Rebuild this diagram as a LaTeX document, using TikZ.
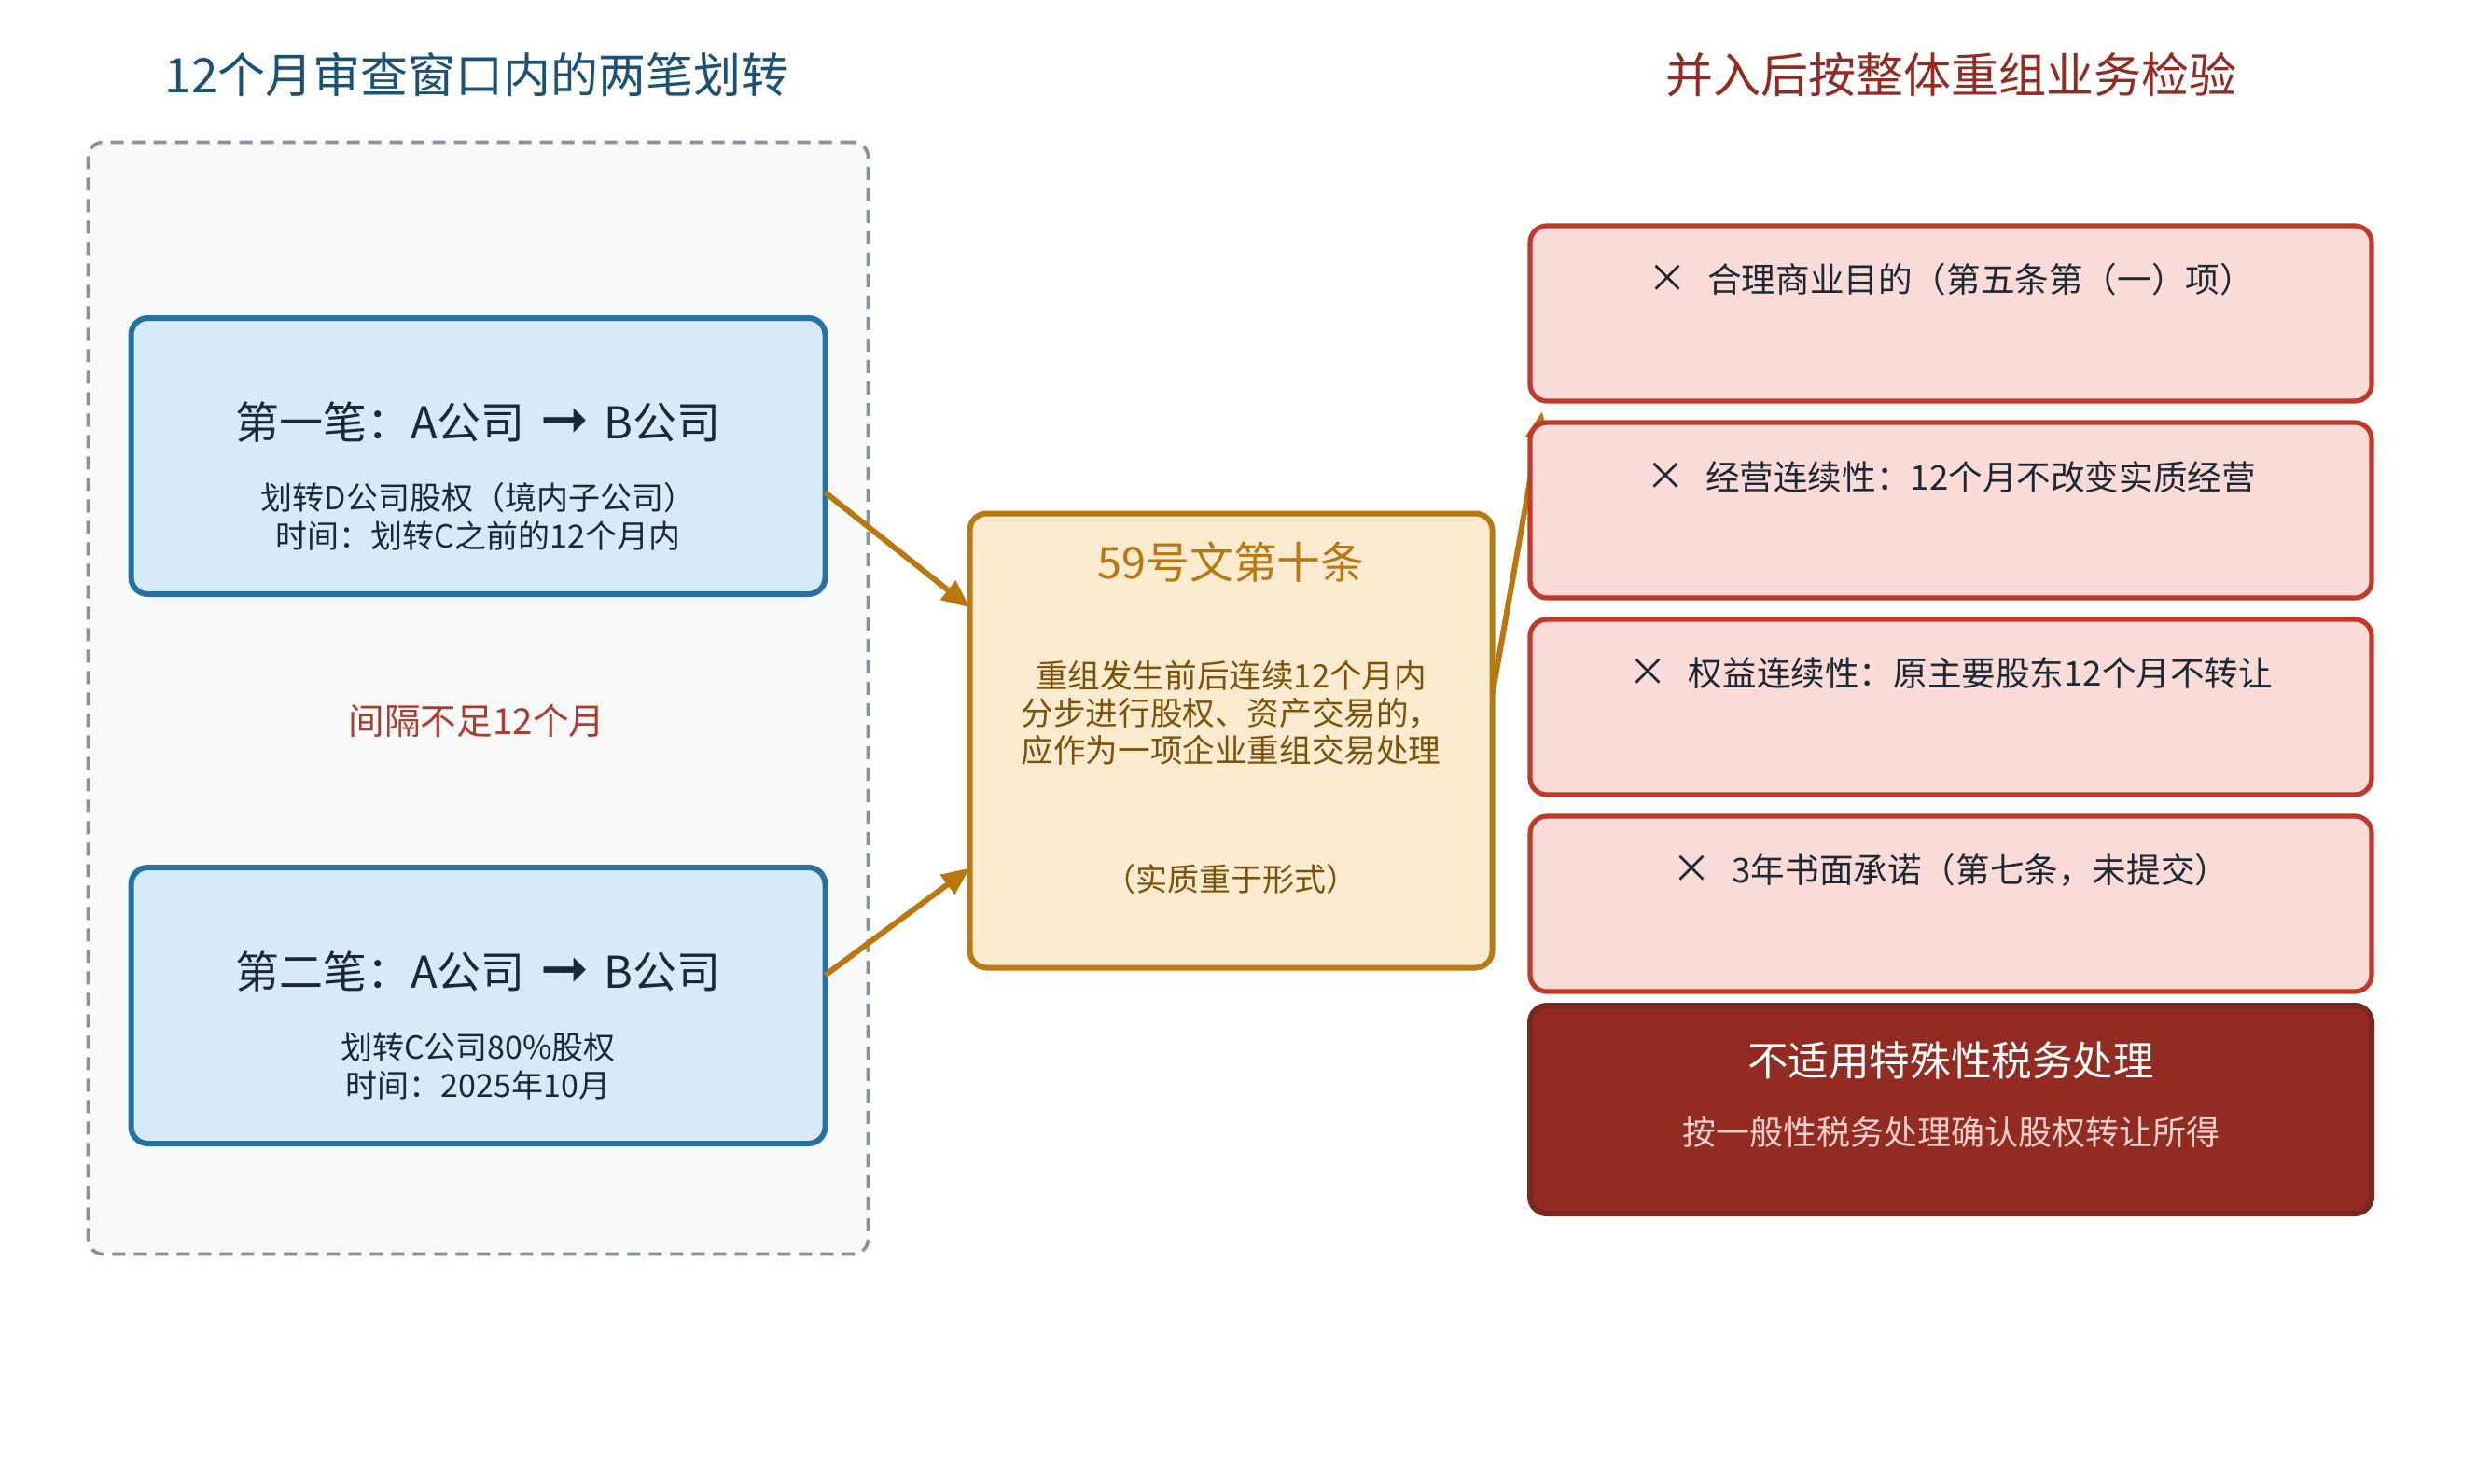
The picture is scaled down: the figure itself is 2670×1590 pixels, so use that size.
\documentclass[tikz,border=0pt]{standalone}
\usepackage{fontspec}
\setmainfont{Noto Sans CJK SC}
\newfontfamily\symfont{DejaVu Sans}
\usetikzlibrary{arrows.meta}
\definecolor{titleblue}{HTML}{1A5276}
\definecolor{titlered}{HTML}{922B21}
\definecolor{framegray}{HTML}{8593A0}
\definecolor{framefill}{HTML}{F7F9F9}
\definecolor{bluefill}{HTML}{D6EAF8}
\definecolor{bluedraw}{HTML}{2471A3}
\definecolor{gapred}{HTML}{B03A2E}
\definecolor{cfill}{HTML}{FDEBD0}
\definecolor{cdraw}{HTML}{BA7A12}
\definecolor{ctitle}{HTML}{B9770E}
\definecolor{cbody}{HTML}{7E5109}
\definecolor{redfill}{HTML}{FADBD8}
\definecolor{reddraw}{HTML}{C0392B}
\definecolor{finfill}{HTML}{922B21}
\definecolor{findraw}{HTML}{78281F}
\definecolor{finsub}{HTML}{F5CFCB}
\definecolor{txt}{HTML}{1C2833}
\tikzset{
  frame/.style={draw=framegray, dash pattern=on 7pt off 4.5pt, line width=1.8pt, fill=framefill, rounded corners=8pt, minimum width=418pt, minimum height=596pt},
  bluebox/.style={draw=bluedraw, fill=bluefill, line width=3pt, rounded corners=9pt, minimum width=372pt, minimum height=148pt},
  centerbox/.style={draw=cdraw, fill=cfill, line width=3pt, rounded corners=9pt, minimum width=280pt, minimum height=243.5pt},
  redbox/.style={draw=reddraw, fill=redfill, line width=2.6pt, rounded corners=9pt, minimum width=451pt, minimum height=94pt},
  finbox/.style={draw=findraw, fill=finfill, line width=3pt, rounded corners=9pt, minimum width=451pt, minimum height=111.5pt},
  bigtitle/.style={font=\fontsize{25.5}{30}\selectfont},
  boxtitle/.style={font=\fontsize{23.5}{28}\selectfont, text=txt},
  boxsub/.style={font=\fontsize{17}{20.5}\selectfont, text=txt, align=center},
  redtxt/.style={font=\fontsize{18.3}{22}\selectfont, text=txt},
  conn/.style={draw=ctitle, line width=3pt, -{Triangle[length=15pt,width=12.5pt]}}
}
\newcommand{\tick}{{\fontsize{21}{22}\selectfont ×}\hspace{0.6em}}
\newcommand{\heavyarrow}{\hspace{0.35em}{\fontsize{31}{28}\selectfont\symfont\bfseries ➞}\hspace{0.35em}}
\begin{document}
\begin{tikzpicture}[x=0.5pt,y=-0.5pt, every node/.style={inner sep=0pt, outer sep=0pt}]
\useasboundingbox (0,0) rectangle (2670,1590);
\fill[white] (0,0) rectangle (2670,1590);

\node[bigtitle, text=titleblue] (t1) at (511,80) {12个月审查窗口内的两笔划转};
\node[bigtitle, text=titlered] (t2) at (2091,80) {并入后按整体重组业务检验};

\node[frame] (win) at (512.5,748.5) {};

\node[bluebox] (b1) at (512.5,489) {};
\node[boxtitle] (b1t) at (512.5,453) {第一笔：A公司\heavyarrow B公司};
\node[boxsub] (b1s) at (512.5,554) {划转D公司股权（境内子公司）\\时间：划转C之前的12个月内};

\node[font=\fontsize{19.3}{23}\selectfont, text=gapred] (gap) at (511,773) {间隔不足12个月};

\node[bluebox] (b2) at (512.5,1078) {};
\node[boxtitle] (b2t) at (512.5,1042) {第二笔：A公司\heavyarrow B公司};
\node[boxsub] (b2s) at (512.5,1143.5) {划转C公司80\%股权\\时间：2025年10月};

\node[centerbox] (c) at (1319.5,794) {};
\node[font=\fontsize{23.4}{28}\selectfont, text=ctitle] (ct) at (1319.5,603) {59号文第十条};
\node[font=\fontsize{17.3}{20}\selectfont, text=cbody, align=center] (cb) at (1319.5,764) {重组发生前后连续12个月内\\分步进行股权、资产交易的，\\应作为一项企业重组交易处理};
\node[font=\fontsize{17}{20}\selectfont, text=cbody] (cn) at (1319.5,943) {（实质重于形式）};

\draw[conn] (b1.-6.4) -- (c.153.6);
\draw[conn] (b2.5.9) -- (c.206.2);
\coordinate (rt) at (1653,441);
\draw[conn] (c.10) -- (rt);

\node[redbox] (r1) at (2091,336) {};
\node[redtxt] (r1t) at (2091,300) {\tick 合理商业目的（第五条第（一）项）};
\node[redbox] (r2) at (2091,547) {};
\node[redtxt] (r2t) at (2091,511) {\tick 经营连续性：12个月不改变实质经营};
\node[redbox] (r3) at (2091,758) {};
\node[redtxt] (r3t) at (2091,722) {\tick 权益连续性：原主要股东12个月不转让};
\node[redbox] (r4) at (2091,969) {};
\node[redtxt] (r4t) at (2091,933) {\tick 3年书面承诺（第七条，未提交）};

\node[finbox] (fin) at (2091,1189.5) {};
\node[font=\fontsize{21.8}{26}\selectfont, text=white] (fint) at (2091,1137) {不适用特殊性税务处理};
\node[font=\fontsize{18}{22}\selectfont, text=finsub] (fins) at (2091,1214) {按一般性税务处理确认股权转让所得};
\end{tikzpicture}
\end{document}
